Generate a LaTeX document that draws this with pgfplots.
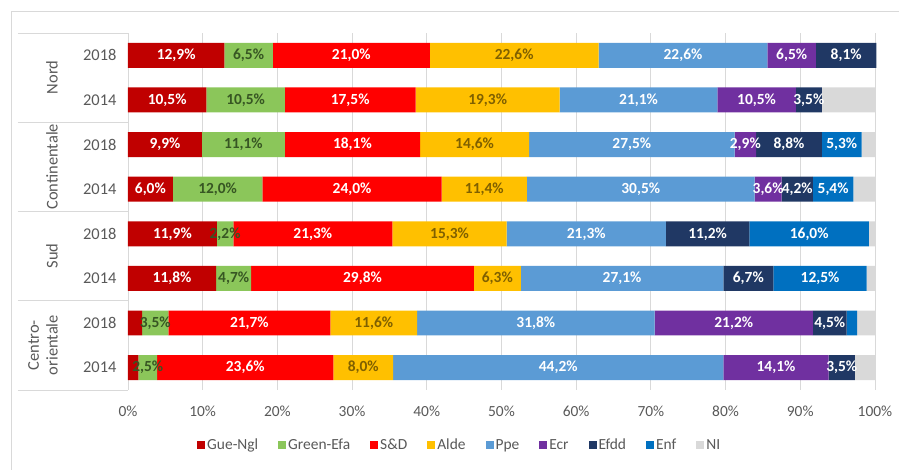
\documentclass[border=0pt]{standalone}
\usepackage{fontspec}
\setmainfont{Carlito}
\usepackage{pgfplots}
\pgfplotsset{compat=1.18}
\usepackage{pgfplotstable}

\definecolor{gueC}{HTML}{C00000}
\definecolor{greenC}{HTML}{8BC65A}
\definecolor{sdC}{HTML}{FF0000}
\definecolor{aldeC}{HTML}{FFC000}
\definecolor{ppeC}{HTML}{5B9BD5}
\definecolor{ecrC}{HTML}{7030A0}
\definecolor{efddC}{HTML}{203864}
\definecolor{enfC}{HTML}{0070C0}
\definecolor{niC}{HTML}{D9D9D9}
\definecolor{txtgray}{HTML}{595959}
\definecolor{darkgreen}{HTML}{375623}
\definecolor{darkgold}{HTML}{7F6000}
\definecolor{linegray}{HTML}{D9D9D9}

% quota seggi per gruppo, righe dall'alto: Nord 2018, Nord 2014, Continentale 2018, ...
\pgfplotstableread{
pos gue  green sd   alde ppe  ecr  efdd enf  ni
1   12.9 6.5   21.0 22.6 22.6 6.5  8.1  0.0  0.0
2   10.5 10.5  17.5 19.3 21.1 10.5 3.5  0.0  7.1
3   9.9  11.1  18.1 14.6 27.5 2.9  8.8  5.3  1.8
4   6.0  12.0  24.0 11.4 30.5 3.6  4.2  5.4  2.9
5   11.9 2.2   21.3 15.3 21.3 0.0  11.2 16.0 0.8
6   11.8 4.7   29.8 6.3  27.1 0.0  6.7  12.5 1.1
7   1.9  3.5   21.7 11.6 31.8 21.2 4.5  1.4  2.4
8   1.4  2.5   23.6 8.0  44.2 14.1 3.5  0.0  2.7
}\seggi

\newcommand\pct[1]{\pgfmathprintnumber[fixed,fixed zerofill,precision=1,use comma,assume math mode=true]{#1}\%}

% etichette dentro i segmenti, nascoste sotto il 2%
\pgfplotsset{
  seg/.style n args={3}{
    fill=#2, draw=none,
    visualization depends on={\thisrow{#1} \as \rawx},
    nodes near coords={\pgfmathparse{\rawx<2}\ifnum\pgfmathresult>0 \else\pct{\rawx}\fi},
    every node near coord/.style={text=#3, anchor=center, inner sep=0pt,
      font=\fontsize{15.5}{18}\selectfont\bfseries},
  },
}

\begin{document}
\begin{tikzpicture}
\path (0bp,0bp) rectangle (899bp,-470bp);
\draw[linegray] (11bp,-470bp) -- (11bp,-11bp) -- (899bp,-11bp);
% riquadro etichette
\foreach \yy in {33,122.2,211.4,300.6,389.8}
  \draw[linegray] (18bp,-\yy bp) -- (128bp,-\yy bp);
\begin{scope}[every node/.style={text=txtgray, font=\fontsize{16.5}{19}\selectfont, rotate=90}]
\node at (52bp,-77.5bp) {Nord};
\node at (52bp,-166.8bp) {Continentale};
\node at (52bp,-256bp) {Sud};
\node[align=center] at (43bp,-345.2bp) {Centro-\\orientale};
\end{scope}

\begin{axis}[
  at={(128bp,-390bp)}, anchor=south west,
  scale only axis, width=749bp, height=357bp,
  xbar stacked, bar width=25bp,
  xmin=0, xmax=100.25, ymin=0.5, ymax=8.5, y dir=reverse,
  xtick={0,10,...,100},
  xticklabels={0\%,10\%,20\%,30\%,40\%,50\%,60\%,70\%,80\%,90\%,100\%},
  ytick={1,...,8},
  yticklabels={2018,2014,2018,2014,2018,2014,2018,2014},
  xmajorgrids, major grid style={linegray, line width=0.8pt},
  axis line style={draw=none}, major tick length=0pt,
  xticklabel style={font=\fontsize{15.5}{18}\selectfont, text=txtgray, yshift=-13bp},
  yticklabel style={font=\fontsize{16.5}{19}\selectfont, text=txtgray, xshift=-8bp},
  legend columns=-1,
  legend style={at={(0.443,-0.154)}, anchor=center, draw=none,
    font=\fontsize{15.5}{18}\selectfont, text=txtgray,
    /tikz/every even column/.append style={column sep=18bp}},
  legend image code/.code={\fill[#1] (0bp,-4bp) rectangle (8bp,4bp);},
]
\addplot[seg={gue}{gueC}{white}] table[x=gue, y=pos] {\seggi};
\addplot[seg={green}{greenC}{darkgreen}] table[x=green, y=pos] {\seggi};
\addplot[seg={sd}{sdC}{white}] table[x=sd, y=pos] {\seggi};
\addplot[seg={alde}{aldeC}{darkgold}] table[x=alde, y=pos] {\seggi};
\addplot[seg={ppe}{ppeC}{white}] table[x=ppe, y=pos] {\seggi};
\addplot[seg={ecr}{ecrC}{white}] table[x=ecr, y=pos] {\seggi};
\addplot[seg={efdd}{efddC}{white}] table[x=efdd, y=pos] {\seggi};
% Enf: nel Nord 2018 lo 0,0 compare tagliato sul bordo
\addplot[seg={enf}{enfC}{white},
  visualization depends on={\coordindex \as \ci},
  nodes near coords={\pgfmathparse{\ci<0.5}\ifnum\pgfmathresult>0 \llap{0,0}\else\pgfmathparse{\rawx<2}\ifnum\pgfmathresult>0 \else\pct{\rawx}\fi\fi},
  ] table[x=enf, y=pos] {\seggi};
\addplot[fill=niC, draw=none] table[x=ni, y=pos] {\seggi};
\legend{Gue-Ngl,Green-Efa,S\&D,Alde,Ppe,Ecr,Efdd,Enf,NI}
\end{axis}
\end{tikzpicture}
\end{document}
